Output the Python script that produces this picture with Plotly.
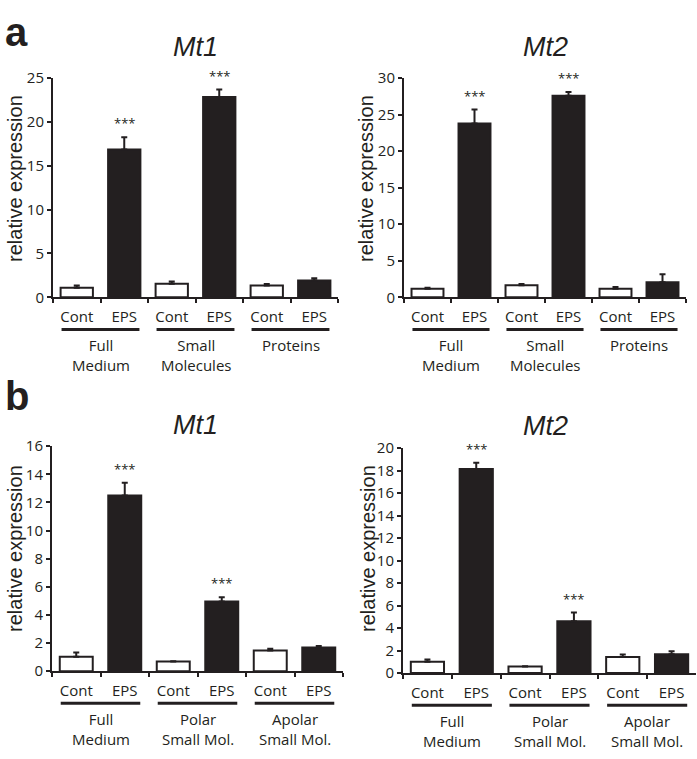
import plotly.graph_objects as go

W, H = 697, 759
INK = "#231f20"

# ---------------- data ----------------
conditions = ["Cont", "EPS"]
groups_a = ["Full<br>Medium", "Small<br>Molecules", "Proteins"]
groups_b = ["Full<br>Medium", "Polar<br>Small Mol.", "Apolar<br>Small Mol."]

a_mt1_mean = [1.07, 16.86, 1.55, 22.85, 1.33, 1.92]
a_mt1_err = [0.26, 1.41, 0.25, 0.85, 0.17, 0.26]
a_mt2_mean = [1.15, 23.8, 1.64, 27.6, 1.15, 2.04]
a_mt2_err = [0.15, 1.9, 0.16, 0.5, 0.25, 1.11]
b_mt1_mean = [1.02, 12.49, 0.69, 4.95, 1.46, 1.69]
b_mt1_err = [0.30, 0.91, 0.02, 0.30, 0.14, 0.09]
b_mt2_mean = [1.01, 18.15, 0.58, 4.6, 1.42, 1.68]
b_mt2_err = [0.20, 0.55, 0.02, 0.78, 0.23, 0.26]

stars = ["", "***", "", "***", "", ""]

a_mt1_ticks = [0, 5, 10, 15, 20, 25]
a_mt2_ticks = [0, 5, 10, 15, 20, 25, 30]
b_mt1_ticks = [0, 2, 4, 6, 8, 10, 12, 14, 16]
b_mt2_ticks = [0, 2, 4, 6, 8, 10, 12, 14, 16, 18, 20]

# ---------------- layout helpers (pixels -> paper) ----------------
def px_x(p):
    return p / W

def px_y(p):
    return 1 - p / H

panels = [
    # (gene, groups, means, errs, ticks, box(l, r, top, bottom), title pos, ytitle x, ytitle y)
    ("Mt1", groups_a, a_mt1_mean, a_mt1_err, a_mt1_ticks, (53, 338, 69, 294), (195, 37), 15, 172.5),
    ("Mt2", groups_a, a_mt2_mean, a_mt2_err, a_mt2_ticks, (404, 686, 69, 294), (545, 37), 366, 172.5),
    ("Mt1", groups_b, b_mt1_mean, b_mt1_err, b_mt1_ticks, (52, 343, 447, 678), (195, 425), 15, 552.5),
    ("Mt2", groups_b, b_mt2_mean, b_mt2_err, b_mt2_ticks, (403, 696, 449, 680), (545, 426), 368, 552.5),
]

fig = go.Figure()
annotations = []
shapes = []
layout_axes = {}

SANS = "Open Sans, Lato, sans-serif"
TICKFONT = dict(family=SANS, size=15, color=INK)

for i, (gene, groups, means, errs, ticks, box, tpos, ytx, yty) in enumerate(panels):
    n = i + 1
    xa = "x" if n == 1 else f"x{n}"
    ya = "y" if n == 1 else f"y{n}"
    l, r, t, b = box
    cats = [f"{g.replace('<br>', ' ')} | {c}" for g in groups for c in conditions]
    colors = ["white" if c == "Cont" else INK for g in groups for c in conditions]

    fig.add_trace(go.Bar(
        x=cats, y=means, xaxis=xa, yaxis=ya,
        width=0.68,
        marker=dict(color=colors, line=dict(color=INK, width=2)),
        error_y=dict(type="data", array=errs, arrayminus=[0] * len(errs),
                     symmetric=False, color=INK, thickness=2, width=3),
        showlegend=False, hoverinfo="skip",
    ))

    ymax = ticks[-1]
    layout_axes[f"xaxis{'' if n == 1 else n}"] = dict(
        domain=[px_x(l), px_x(r)], anchor=ya, type="category",
        categoryorder="array", categoryarray=cats,
        range=[-0.5, len(cats) - 0.5],
        tickmode="array", tickvals=cats, ticktext=[c for g in groups for c in conditions],
        tickson="boundaries", ticks="outside", ticklen=4, tickwidth=2, tickcolor=INK,
        ticklabelstandoff=5,
        showline=True, linecolor=INK, linewidth=2,
        showgrid=False, zeroline=False, tickfont=TICKFONT, fixedrange=True,
    )
    layout_axes[f"yaxis{'' if n == 1 else n}"] = dict(
        domain=[px_y(b), px_y(t)], anchor=xa,
        range=[0, ymax], tickmode="array", tickvals=ticks,
        ticks="outside", ticklen=4, tickwidth=2, tickcolor=INK,
        showline=True, linecolor=INK, linewidth=2,
        showgrid=False, zeroline=False, tickfont=TICKFONT, fixedrange=True,
    )

    # significance stars
    for c, m, e, s in zip(cats, means, errs, stars):
        if s:
            annotations.append(dict(
                x=c, y=m + e, xref=xa, yref=ya, text=s, showarrow=False,
                yanchor="bottom", yshift=3,
                font=dict(family=SANS, size=13, color=INK),
            ))

    # group underlines and labels
    for gi, g in enumerate(groups):
        x0 = 2 * gi - 0.5 + 0.18
        x1 = 2 * gi + 1.5 - 0.18
        ly = b + 33
        shapes.append(dict(type="line", xref=xa, yref="paper",
                           x0=x0, x1=x1, y0=px_y(ly), y1=px_y(ly),
                           line=dict(color=INK, width=3)))
        annotations.append(dict(
            x=2 * gi + 0.5, y=px_y(b + 37), xref=xa, yref="paper",
            text=g, showarrow=False, yanchor="top", align="center",
            font=dict(family=SANS, size=15, color=INK),
        ))

    # gene title
    annotations.append(dict(
        x=px_x(tpos[0]), y=px_y(tpos[1]), xref="paper", yref="paper",
        text=f"<i>{gene}</i>", showarrow=False, xanchor="center", yanchor="middle",
        font=dict(family="Liberation Sans, Arial, sans-serif", size=27, color=INK),
    ))
    # y-axis title
    annotations.append(dict(
        x=px_x(ytx), y=px_y(yty), xref="paper", yref="paper",
        text="relative expression", showarrow=False, textangle=-90,
        xanchor="center", yanchor="middle",
        font=dict(family="Liberation Sans, Arial, sans-serif", size=20, color=INK),
    ))

# panel letters
for letter, (lx, ly) in [("a", (16, 22)), ("b", (17, 395))]:
    annotations.append(dict(
        x=px_x(lx), y=px_y(ly), xref="paper", yref="paper",
        text=f"<b>{letter}</b>", showarrow=False, xanchor="center", yanchor="middle",
        font=dict(family="Liberation Sans, Arial, sans-serif", size=40, color=INK),
    ))

fig.update_layout(
    width=W, height=H,
    margin=dict(l=0, r=0, t=0, b=0),
    paper_bgcolor="white", plot_bgcolor="white",
    bargap=0.32, hovermode=False,
    annotations=annotations, shapes=shapes,
    **layout_axes,
)

fig.write_html(
    "out.html",
    config={"displayModeBar": False, "staticPlot": True},
    post_script="document.body.style.margin='0';document.body.style.overflow='hidden';",
)
